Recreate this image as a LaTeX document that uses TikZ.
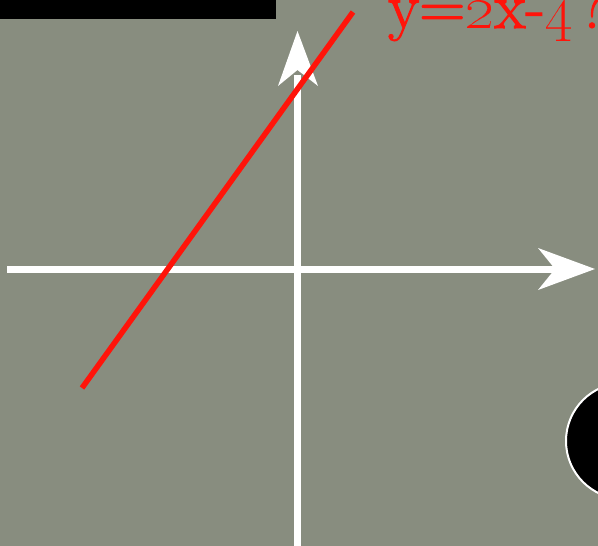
\documentclass[tikz,border=0pt]{standalone}
\usepackage{graphicx}
\definecolor{bgc}{RGB}{136,141,127}
\definecolor{redc}{RGB}{255,20,10}
\newcommand{\osdig}[1]{\scalebox{2.57}{\fontsize{24.88}{24.88}\selectfont\oldstylenums{#1}}}
\newcommand{\heavytext}[1]{\special{pdf:literal direct 2 Tr 1.1 w}#1\special{pdf:literal direct 0 Tr}}
\begin{document}
\begin{tikzpicture}[x=1pt,y=-1pt,
  axis/.style={white,line width=7pt},
  redline/.style={redc,line width=5.5pt}]
\useasboundingbox (0,0) rectangle (598,546);
\fill[bgc] (0,0) rectangle (598,546);
\fill[black] (0,0) rectangle (276,19);
% axes
\coordinate (xl) at (7,269);
\coordinate (xr) at (560,269);
\coordinate (yb) at (297.5,546);
\coordinate (yt) at (297.5,75);
\draw[axis] (xl) -- (xr);
\draw[axis] (yb) -- (yt);
\fill[white] (595,269) -- (538,248) -- (555,269) -- (538,290) -- cycle;
\fill[white] (297.5,31) -- (278,86) -- (297.5,70) -- (318,86) -- cycle;
% red line
\coordinate (ra) at (82,388);
\coordinate (rb) at (353,12);
\draw[redline] (ra) -- (rb);
% label
\node[anchor=base west,inner sep=0pt,text=redc,font=\fontsize{64}{64}\selectfont] (lbl) at (388,28) {\heavytext{y=\osdig{2}x-\osdig{4}\kern5pt?}};
% circle
\draw[white,line width=2pt,fill=black] (624,441) circle (58);
\end{tikzpicture}
\end{document}
